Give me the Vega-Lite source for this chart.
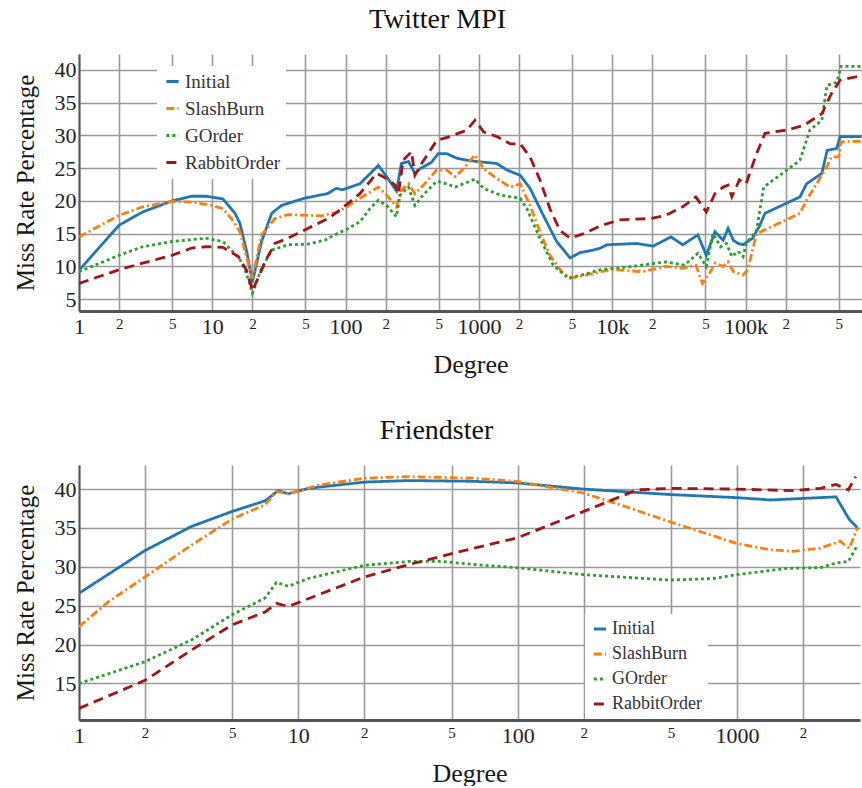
{
  "$schema": "https://vega.github.io/schema/vega-lite/v6.json",
  "padding": {"left": 13, "top": 6, "right": 0, "bottom": 0},
  "background": "white",
  "spacing": 40,
  "config": {
    "font": "Liberation Serif",
    "view": {"stroke": null},
    "style": {"guide-label": {"font": "Liberation Serif"}, "guide-title": {"font": "Liberation Serif"}},
    "axis": {"gridColor": "#9a9a9a", "gridWidth": 1.6, "gridOpacity": 1, "domainColor": "#555555", "labelColor": "#222222", "titleColor": "#1a1a1a", "labelFont": "Liberation Serif", "titleFont": "Liberation Serif", "titleFontWeight": "normal", "ticks": false},
    "legend": {"labelFont": "Liberation Serif", "titleFont": "Liberation Serif"},
    "title": {"font": "Liberation Serif", "fontSize": 28, "fontWeight": "normal", "color": "#111111", "anchor": "middle", "frame": "bounds"}
  },
  "datasets": {
    "twitter": [
      {"degree": 1, "series": "Initial", "miss": 9.4},
      {"degree": 2, "series": "Initial", "miss": 16.3},
      {"degree": 3, "series": "Initial", "miss": 18.3},
      {"degree": 5, "series": "Initial", "miss": 20.0},
      {"degree": 7, "series": "Initial", "miss": 20.7},
      {"degree": 9, "series": "Initial", "miss": 20.7},
      {"degree": 12, "series": "Initial", "miss": 20.3},
      {"degree": 14.8, "series": "Initial", "miss": 18.1},
      {"degree": 16.1, "series": "Initial", "miss": 16.6},
      {"degree": 18.1, "series": "Initial", "miss": 12.3},
      {"degree": 20, "series": "Initial", "miss": 7.6},
      {"degree": 23.4, "series": "Initial", "miss": 13.8},
      {"degree": 27.9, "series": "Initial", "miss": 18.1},
      {"degree": 33, "series": "Initial", "miss": 19.3},
      {"degree": 49, "series": "Initial", "miss": 20.4},
      {"degree": 73, "series": "Initial", "miss": 21.1},
      {"degree": 85, "series": "Initial", "miss": 21.9},
      {"degree": 95, "series": "Initial", "miss": 21.7},
      {"degree": 128, "series": "Initial", "miss": 22.6},
      {"degree": 176, "series": "Initial", "miss": 25.4},
      {"degree": 198, "series": "Initial", "miss": 24.0},
      {"degree": 241, "series": "Initial", "miss": 21.5},
      {"degree": 262, "series": "Initial", "miss": 25.7},
      {"degree": 296, "series": "Initial", "miss": 26.0},
      {"degree": 331, "series": "Initial", "miss": 24.2},
      {"degree": 362, "series": "Initial", "miss": 24.9},
      {"degree": 441, "series": "Initial", "miss": 25.9},
      {"degree": 496, "series": "Initial", "miss": 27.2},
      {"degree": 574, "series": "Initial", "miss": 27.2},
      {"degree": 683, "series": "Initial", "miss": 26.5},
      {"degree": 812, "series": "Initial", "miss": 26.2},
      {"degree": 967, "series": "Initial", "miss": 26.0},
      {"degree": 1364, "series": "Initial", "miss": 25.7},
      {"degree": 1622, "series": "Initial", "miss": 24.7},
      {"degree": 2040, "series": "Initial", "miss": 23.9},
      {"degree": 2420, "series": "Initial", "miss": 21.9},
      {"degree": 3040, "series": "Initial", "miss": 17.8},
      {"degree": 3830, "series": "Initial", "miss": 13.8},
      {"degree": 4830, "series": "Initial", "miss": 11.3},
      {"degree": 5740, "series": "Initial", "miss": 12.1},
      {"degree": 7220, "series": "Initial", "miss": 12.5},
      {"degree": 8180, "series": "Initial", "miss": 12.8},
      {"degree": 9100, "series": "Initial", "miss": 13.3},
      {"degree": 15200, "series": "Initial", "miss": 13.5},
      {"degree": 20300, "series": "Initial", "miss": 13.1},
      {"degree": 27600, "series": "Initial", "miss": 14.5},
      {"degree": 33800, "series": "Initial", "miss": 13.3},
      {"degree": 43900, "series": "Initial", "miss": 14.8},
      {"degree": 50800, "series": "Initial", "miss": 11.7},
      {"degree": 59000, "series": "Initial", "miss": 15.3},
      {"degree": 68000, "series": "Initial", "miss": 14.0},
      {"degree": 74000, "series": "Initial", "miss": 15.8},
      {"degree": 81000, "series": "Initial", "miss": 14.0},
      {"degree": 88000, "series": "Initial", "miss": 13.5},
      {"degree": 96000, "series": "Initial", "miss": 13.3},
      {"degree": 113000, "series": "Initial", "miss": 14.3},
      {"degree": 127000, "series": "Initial", "miss": 16.1},
      {"degree": 140000, "series": "Initial", "miss": 18.1},
      {"degree": 256000, "series": "Initial", "miss": 20.6},
      {"degree": 287000, "series": "Initial", "miss": 22.6},
      {"degree": 374000, "series": "Initial", "miss": 24.2},
      {"degree": 410000, "series": "Initial", "miss": 27.7},
      {"degree": 484000, "series": "Initial", "miss": 28.0},
      {"degree": 512000, "series": "Initial", "miss": 29.8},
      {"degree": 745000, "series": "Initial", "miss": 29.8},

      {"degree": 1, "series": "SlashBurn", "miss": 14.5},
      {"degree": 2, "series": "SlashBurn", "miss": 17.8},
      {"degree": 3, "series": "SlashBurn", "miss": 19.1},
      {"degree": 5, "series": "SlashBurn", "miss": 19.9},
      {"degree": 7, "series": "SlashBurn", "miss": 19.8},
      {"degree": 10, "series": "SlashBurn", "miss": 19.3},
      {"degree": 12, "series": "SlashBurn", "miss": 18.8},
      {"degree": 14.3, "series": "SlashBurn", "miss": 17.0},
      {"degree": 16.1, "series": "SlashBurn", "miss": 15.3},
      {"degree": 18, "series": "SlashBurn", "miss": 11.5},
      {"degree": 20, "series": "SlashBurn", "miss": 8.2},
      {"degree": 23.4, "series": "SlashBurn", "miss": 14.8},
      {"degree": 29.5, "series": "SlashBurn", "miss": 17.3},
      {"degree": 37, "series": "SlashBurn", "miss": 17.9},
      {"degree": 52, "series": "SlashBurn", "miss": 17.8},
      {"degree": 66, "series": "SlashBurn", "miss": 17.7},
      {"degree": 88, "series": "SlashBurn", "miss": 18.3},
      {"degree": 128, "series": "SlashBurn", "miss": 20.4},
      {"degree": 176, "series": "SlashBurn", "miss": 22.1},
      {"degree": 203, "series": "SlashBurn", "miss": 20.9},
      {"degree": 241, "series": "SlashBurn", "miss": 19.1},
      {"degree": 262, "series": "SlashBurn", "miss": 21.6},
      {"degree": 296, "series": "SlashBurn", "miss": 22.6},
      {"degree": 331, "series": "SlashBurn", "miss": 21.1},
      {"degree": 372, "series": "SlashBurn", "miss": 22.1},
      {"degree": 482, "series": "SlashBurn", "miss": 24.7},
      {"degree": 574, "series": "SlashBurn", "miss": 24.7},
      {"degree": 663, "series": "SlashBurn", "miss": 23.7},
      {"degree": 765, "series": "SlashBurn", "miss": 24.9},
      {"degree": 934, "series": "SlashBurn", "miss": 27.0},
      {"degree": 1087, "series": "SlashBurn", "miss": 24.9},
      {"degree": 1364, "series": "SlashBurn", "miss": 23.4},
      {"degree": 1720, "series": "SlashBurn", "miss": 22.1},
      {"degree": 2040, "series": "SlashBurn", "miss": 22.6},
      {"degree": 2420, "series": "SlashBurn", "miss": 19.3},
      {"degree": 2870, "series": "SlashBurn", "miss": 15.3},
      {"degree": 3410, "series": "SlashBurn", "miss": 11.7},
      {"degree": 4170, "series": "SlashBurn", "miss": 9.2},
      {"degree": 4830, "series": "SlashBurn", "miss": 8.2},
      {"degree": 6430, "series": "SlashBurn", "miss": 8.7},
      {"degree": 8180, "series": "SlashBurn", "miss": 9.2},
      {"degree": 10150, "series": "SlashBurn", "miss": 9.5},
      {"degree": 16900, "series": "SlashBurn", "miss": 9.2},
      {"degree": 25300, "series": "SlashBurn", "miss": 10.0},
      {"degree": 33800, "series": "SlashBurn", "miss": 9.7},
      {"degree": 42400, "series": "SlashBurn", "miss": 10.2},
      {"degree": 47600, "series": "SlashBurn", "miss": 7.4},
      {"degree": 53600, "series": "SlashBurn", "miss": 8.9},
      {"degree": 59000, "series": "SlashBurn", "miss": 10.5},
      {"degree": 68000, "series": "SlashBurn", "miss": 10.0},
      {"degree": 74000, "series": "SlashBurn", "miss": 10.7},
      {"degree": 81000, "series": "SlashBurn", "miss": 9.2},
      {"degree": 96000, "series": "SlashBurn", "miss": 8.7},
      {"degree": 104000, "series": "SlashBurn", "miss": 9.5},
      {"degree": 121000, "series": "SlashBurn", "miss": 15.0},
      {"degree": 137000, "series": "SlashBurn", "miss": 15.5},
      {"degree": 256000, "series": "SlashBurn", "miss": 18.1},
      {"degree": 287000, "series": "SlashBurn", "miss": 20.1},
      {"degree": 408000, "series": "SlashBurn", "miss": 25.2},
      {"degree": 440000, "series": "SlashBurn", "miss": 26.7},
      {"degree": 500000, "series": "SlashBurn", "miss": 26.7},
      {"degree": 520000, "series": "SlashBurn", "miss": 29.0},
      {"degree": 745000, "series": "SlashBurn", "miss": 29.1},

      {"degree": 1, "series": "GOrder", "miss": 9.2},
      {"degree": 2, "series": "GOrder", "miss": 11.7},
      {"degree": 3, "series": "GOrder", "miss": 13.0},
      {"degree": 5, "series": "GOrder", "miss": 13.8},
      {"degree": 9, "series": "GOrder", "miss": 14.3},
      {"degree": 12, "series": "GOrder", "miss": 13.8},
      {"degree": 16, "series": "GOrder", "miss": 11.2},
      {"degree": 18, "series": "GOrder", "miss": 9.0},
      {"degree": 20, "series": "GOrder", "miss": 5.9},
      {"degree": 23.4, "series": "GOrder", "miss": 9.7},
      {"degree": 28, "series": "GOrder", "miss": 12.5},
      {"degree": 37, "series": "GOrder", "miss": 13.3},
      {"degree": 52, "series": "GOrder", "miss": 13.4},
      {"degree": 70, "series": "GOrder", "miss": 14.0},
      {"degree": 88, "series": "GOrder", "miss": 15.1},
      {"degree": 101, "series": "GOrder", "miss": 15.6},
      {"degree": 128, "series": "GOrder", "miss": 16.8},
      {"degree": 152, "series": "GOrder", "miss": 18.8},
      {"degree": 176, "series": "GOrder", "miss": 20.1},
      {"degree": 203, "series": "GOrder", "miss": 19.3},
      {"degree": 241, "series": "GOrder", "miss": 17.6},
      {"degree": 256, "series": "GOrder", "miss": 20.9},
      {"degree": 296, "series": "GOrder", "miss": 22.1},
      {"degree": 331, "series": "GOrder", "miss": 19.3},
      {"degree": 382, "series": "GOrder", "miss": 20.9},
      {"degree": 482, "series": "GOrder", "miss": 23.0},
      {"degree": 574, "series": "GOrder", "miss": 22.6},
      {"degree": 663, "series": "GOrder", "miss": 22.1},
      {"degree": 765, "series": "GOrder", "miss": 22.6},
      {"degree": 934, "series": "GOrder", "miss": 23.3},
      {"degree": 1087, "series": "GOrder", "miss": 21.9},
      {"degree": 1440, "series": "GOrder", "miss": 20.9},
      {"degree": 2040, "series": "GOrder", "miss": 20.4},
      {"degree": 2290, "series": "GOrder", "miss": 18.8},
      {"degree": 2870, "series": "GOrder", "miss": 14.3},
      {"degree": 3610, "series": "GOrder", "miss": 10.2},
      {"degree": 4700, "series": "GOrder", "miss": 8.2},
      {"degree": 6430, "series": "GOrder", "miss": 8.9},
      {"degree": 8180, "series": "GOrder", "miss": 9.5},
      {"degree": 14300, "series": "GOrder", "miss": 10.0},
      {"degree": 25300, "series": "GOrder", "miss": 10.7},
      {"degree": 34900, "series": "GOrder", "miss": 10.2},
      {"degree": 43900, "series": "GOrder", "miss": 12.0},
      {"degree": 50800, "series": "GOrder", "miss": 10.0},
      {"degree": 57000, "series": "GOrder", "miss": 15.0},
      {"degree": 65000, "series": "GOrder", "miss": 13.0},
      {"degree": 72000, "series": "GOrder", "miss": 13.5},
      {"degree": 79000, "series": "GOrder", "miss": 11.5},
      {"degree": 88000, "series": "GOrder", "miss": 12.3},
      {"degree": 96000, "series": "GOrder", "miss": 11.5},
      {"degree": 101000, "series": "GOrder", "miss": 13.5},
      {"degree": 121000, "series": "GOrder", "miss": 15.5},
      {"degree": 137000, "series": "GOrder", "miss": 22.1},
      {"degree": 204000, "series": "GOrder", "miss": 24.7},
      {"degree": 256000, "series": "GOrder", "miss": 26.2},
      {"degree": 304000, "series": "GOrder", "miss": 30.8},
      {"degree": 374000, "series": "GOrder", "miss": 32.3},
      {"degree": 408000, "series": "GOrder", "miss": 37.6},
      {"degree": 484000, "series": "GOrder", "miss": 38.1},
      {"degree": 520000, "series": "GOrder", "miss": 40.5},
      {"degree": 745000, "series": "GOrder", "miss": 40.5},

      {"degree": 1, "series": "RabbitOrder", "miss": 7.4},
      {"degree": 2, "series": "RabbitOrder", "miss": 9.5},
      {"degree": 3, "series": "RabbitOrder", "miss": 10.5},
      {"degree": 5, "series": "RabbitOrder", "miss": 11.7},
      {"degree": 7, "series": "RabbitOrder", "miss": 12.8},
      {"degree": 9, "series": "RabbitOrder", "miss": 13.0},
      {"degree": 12, "series": "RabbitOrder", "miss": 12.9},
      {"degree": 15.7, "series": "RabbitOrder", "miss": 11.5},
      {"degree": 18, "series": "RabbitOrder", "miss": 9.5},
      {"degree": 20, "series": "RabbitOrder", "miss": 6.3},
      {"degree": 25.6, "series": "RabbitOrder", "miss": 11.2},
      {"degree": 29.5, "series": "RabbitOrder", "miss": 13.5},
      {"degree": 37, "series": "RabbitOrder", "miss": 14.3},
      {"degree": 52, "series": "RabbitOrder", "miss": 15.8},
      {"degree": 74, "series": "RabbitOrder", "miss": 17.3},
      {"degree": 93, "series": "RabbitOrder", "miss": 18.8},
      {"degree": 128, "series": "RabbitOrder", "miss": 21.1},
      {"degree": 171, "series": "RabbitOrder", "miss": 24.2},
      {"degree": 203, "series": "RabbitOrder", "miss": 23.4},
      {"degree": 235, "series": "RabbitOrder", "miss": 22.4},
      {"degree": 249, "series": "RabbitOrder", "miss": 21.1},
      {"degree": 270, "series": "RabbitOrder", "miss": 26.2},
      {"degree": 312, "series": "RabbitOrder", "miss": 27.5},
      {"degree": 331, "series": "RabbitOrder", "miss": 23.9},
      {"degree": 372, "series": "RabbitOrder", "miss": 25.7},
      {"degree": 482, "series": "RabbitOrder", "miss": 29.2},
      {"degree": 604, "series": "RabbitOrder", "miss": 29.8},
      {"degree": 812, "series": "RabbitOrder", "miss": 30.8},
      {"degree": 934, "series": "RabbitOrder", "miss": 32.3},
      {"degree": 1087, "series": "RabbitOrder", "miss": 30.5},
      {"degree": 1364, "series": "RabbitOrder", "miss": 29.8},
      {"degree": 1720, "series": "RabbitOrder", "miss": 28.7},
      {"degree": 2040, "series": "RabbitOrder", "miss": 28.7},
      {"degree": 2420, "series": "RabbitOrder", "miss": 26.7},
      {"degree": 2870, "series": "RabbitOrder", "miss": 23.2},
      {"degree": 3410, "series": "RabbitOrder", "miss": 18.8},
      {"degree": 4050, "series": "RabbitOrder", "miss": 15.5},
      {"degree": 4830, "series": "RabbitOrder", "miss": 14.3},
      {"degree": 6110, "series": "RabbitOrder", "miss": 15.0},
      {"degree": 8180, "series": "RabbitOrder", "miss": 16.2},
      {"degree": 11400, "series": "RabbitOrder", "miss": 17.1},
      {"degree": 19200, "series": "RabbitOrder", "miss": 17.3},
      {"degree": 25300, "series": "RabbitOrder", "miss": 17.8},
      {"degree": 33800, "series": "RabbitOrder", "miss": 19.1},
      {"degree": 42400, "series": "RabbitOrder", "miss": 20.6},
      {"degree": 50800, "series": "RabbitOrder", "miss": 18.3},
      {"degree": 59000, "series": "RabbitOrder", "miss": 21.1},
      {"degree": 68000, "series": "RabbitOrder", "miss": 22.1},
      {"degree": 74000, "series": "RabbitOrder", "miss": 22.4},
      {"degree": 79000, "series": "RabbitOrder", "miss": 20.6},
      {"degree": 90000, "series": "RabbitOrder", "miss": 23.2},
      {"degree": 101000, "series": "RabbitOrder", "miss": 22.6},
      {"degree": 121000, "series": "RabbitOrder", "miss": 27.2},
      {"degree": 140000, "series": "RabbitOrder", "miss": 30.3},
      {"degree": 204000, "series": "RabbitOrder", "miss": 30.8},
      {"degree": 273000, "series": "RabbitOrder", "miss": 31.5},
      {"degree": 374000, "series": "RabbitOrder", "miss": 33.3},
      {"degree": 440000, "series": "RabbitOrder", "miss": 36.3},
      {"degree": 512000, "series": "RabbitOrder", "miss": 38.4},
      {"degree": 745000, "series": "RabbitOrder", "miss": 39.1}
    ],
    "friendster": [
      {"degree": 1, "series": "Initial", "miss": 26.6},
      {"degree": 2, "series": "Initial", "miss": 32.1},
      {"degree": 3.26, "series": "Initial", "miss": 35.2},
      {"degree": 4.96, "series": "Initial", "miss": 37.1},
      {"degree": 7.06, "series": "Initial", "miss": 38.5},
      {"degree": 8.1, "series": "Initial", "miss": 39.8},
      {"degree": 9.0, "series": "Initial", "miss": 39.4},
      {"degree": 11.1, "series": "Initial", "miss": 40.1},
      {"degree": 20, "series": "Initial", "miss": 40.9},
      {"degree": 32, "series": "Initial", "miss": 41.1},
      {"degree": 63, "series": "Initial", "miss": 41.0},
      {"degree": 99, "series": "Initial", "miss": 40.8},
      {"degree": 199, "series": "Initial", "miss": 40.0},
      {"degree": 495, "series": "Initial", "miss": 39.3},
      {"degree": 1000, "series": "Initial", "miss": 38.9},
      {"degree": 1420, "series": "Initial", "miss": 38.6},
      {"degree": 2000, "series": "Initial", "miss": 38.8},
      {"degree": 2830, "series": "Initial", "miss": 39.0},
      {"degree": 3250, "series": "Initial", "miss": 36.1},
      {"degree": 3550, "series": "Initial", "miss": 35.0},

      {"degree": 1, "series": "SlashBurn", "miss": 22.3},
      {"degree": 1.36, "series": "SlashBurn", "miss": 25.5},
      {"degree": 2, "series": "SlashBurn", "miss": 28.7},
      {"degree": 3.26, "series": "SlashBurn", "miss": 32.8},
      {"degree": 4.96, "series": "SlashBurn", "miss": 36.1},
      {"degree": 7.06, "series": "SlashBurn", "miss": 38.0},
      {"degree": 7.95, "series": "SlashBurn", "miss": 39.7},
      {"degree": 9.0, "series": "SlashBurn", "miss": 39.4},
      {"degree": 12.3, "series": "SlashBurn", "miss": 40.5},
      {"degree": 20, "series": "SlashBurn", "miss": 41.4},
      {"degree": 32, "series": "SlashBurn", "miss": 41.6},
      {"degree": 63, "series": "SlashBurn", "miss": 41.4},
      {"degree": 99, "series": "SlashBurn", "miss": 41.0},
      {"degree": 199, "series": "SlashBurn", "miss": 39.5},
      {"degree": 292, "series": "SlashBurn", "miss": 38.0},
      {"degree": 495, "series": "SlashBurn", "miss": 35.8},
      {"degree": 1000, "series": "SlashBurn", "miss": 33.0},
      {"degree": 1420, "series": "SlashBurn", "miss": 32.2},
      {"degree": 1800, "series": "SlashBurn", "miss": 32.0},
      {"degree": 2400, "series": "SlashBurn", "miss": 32.4},
      {"degree": 2950, "series": "SlashBurn", "miss": 33.3},
      {"degree": 3250, "series": "SlashBurn", "miss": 32.4},
      {"degree": 3550, "series": "SlashBurn", "miss": 35.0},

      {"degree": 1, "series": "GOrder", "miss": 15.0},
      {"degree": 2, "series": "GOrder", "miss": 17.8},
      {"degree": 3.26, "series": "GOrder", "miss": 20.6},
      {"degree": 4.96, "series": "GOrder", "miss": 23.8},
      {"degree": 7.06, "series": "GOrder", "miss": 26.0},
      {"degree": 7.95, "series": "GOrder", "miss": 28.0},
      {"degree": 9.0, "series": "GOrder", "miss": 27.5},
      {"degree": 11.1, "series": "GOrder", "miss": 28.5},
      {"degree": 20, "series": "GOrder", "miss": 30.2},
      {"degree": 32, "series": "GOrder", "miss": 30.7},
      {"degree": 45, "series": "GOrder", "miss": 30.7},
      {"degree": 63, "series": "GOrder", "miss": 30.3},
      {"degree": 99, "series": "GOrder", "miss": 29.9},
      {"degree": 199, "series": "GOrder", "miss": 29.0},
      {"degree": 495, "series": "GOrder", "miss": 28.3},
      {"degree": 780, "series": "GOrder", "miss": 28.5},
      {"degree": 1000, "series": "GOrder", "miss": 29.0},
      {"degree": 1690, "series": "GOrder", "miss": 29.8},
      {"degree": 2400, "series": "GOrder", "miss": 29.9},
      {"degree": 2830, "series": "GOrder", "miss": 30.5},
      {"degree": 3220, "series": "GOrder", "miss": 30.7},
      {"degree": 3550, "series": "GOrder", "miss": 32.8},

      {"degree": 1, "series": "RabbitOrder", "miss": 11.8},
      {"degree": 2, "series": "RabbitOrder", "miss": 15.4},
      {"degree": 3.26, "series": "RabbitOrder", "miss": 19.3},
      {"degree": 4.96, "series": "RabbitOrder", "miss": 22.5},
      {"degree": 7.06, "series": "RabbitOrder", "miss": 24.2},
      {"degree": 7.95, "series": "RabbitOrder", "miss": 25.3},
      {"degree": 9.0, "series": "RabbitOrder", "miss": 24.9},
      {"degree": 20, "series": "RabbitOrder", "miss": 28.7},
      {"degree": 32, "series": "RabbitOrder", "miss": 30.3},
      {"degree": 63, "series": "RabbitOrder", "miss": 32.4},
      {"degree": 99, "series": "RabbitOrder", "miss": 33.7},
      {"degree": 199, "series": "RabbitOrder", "miss": 37.1},
      {"degree": 350, "series": "RabbitOrder", "miss": 39.9},
      {"degree": 495, "series": "RabbitOrder", "miss": 40.1},
      {"degree": 1000, "series": "RabbitOrder", "miss": 40.0},
      {"degree": 1800, "series": "RabbitOrder", "miss": 39.8},
      {"degree": 2400, "series": "RabbitOrder", "miss": 40.1},
      {"degree": 2830, "series": "RabbitOrder", "miss": 40.6},
      {"degree": 3220, "series": "RabbitOrder", "miss": 39.9},
      {"degree": 3480, "series": "RabbitOrder", "miss": 41.6}
    ]
  },
  "resolve": {"legend": {"color": "independent", "strokeDash": "independent"}, "scale": {"x": "independent", "y": "independent"}},
  "vconcat": [
    {
      "title": {"text": "Twitter MPI", "offset": 20},
      "width": 783,
      "height": 257,
      "data": {"name": "twitter"},
      "mark": {"type": "line", "strokeWidth": 2.8, "clip": true},
      "encoding": {
        "x": {
          "field": "degree", "type": "quantitative",
          "scale": {"type": "log", "domain": [1, 748000], "nice": false},
          "axis": {
            "title": "Degree", "titleFontSize": 26, "titlePadding": 14, "titleFont": "Liberation Serif",
            "values": [1, 2, 5, 10, 20, 50, 100, 200, 500, 1000, 2000, 5000, 10000, 20000, 50000, 100000, 200000, 500000],
            "labelExpr": "datum.value == 10000 ? '10k' : datum.value == 100000 ? '100k' : (indexof([1, 10, 100, 1000], datum.value) >= 0 ? format(datum.value, 'd') : substring(format(datum.value, 'd'), 0, 1))",
            "labelFontSize": {"condition": {"test": "indexof([1, 10, 100, 1000, 10000, 100000], datum.value) >= 0", "value": 22}, "value": 15},
            "labelFont": "Liberation Serif",
            "labelPadding": 5, "labelFlush": false, "labelOverlap": false,
            "domainWidth": 3, "domainColor": "#555555", "grid": true
          }
        },
        "y": {
          "field": "miss", "type": "quantitative",
          "scale": {"domain": [3.2, 42.4], "nice": false, "zero": false},
          "axis": {
            "title": "Miss Rate Percentage", "titleFontSize": 25, "titlePadding": 15, "titleFont": "Liberation Serif",
            "values": [5, 10, 15, 20, 25, 30, 35, 40],
            "labelFontSize": 22, "labelFont": "Liberation Serif", "labelPadding": 3, "minExtent": 26, "maxExtent": 26,
            "domainWidth": 2, "grid": true
          }
        },
        "color": {
          "field": "series", "type": "nominal",
          "scale": {"domain": ["Initial", "SlashBurn", "GOrder", "RabbitOrder"], "range": ["#1f77b4", "#ff7f0e", "#2ca02c", "#a31515"]},
          "legend": {"title": null, "orient": "none", "legendX": 78, "legendY": 12, "fillColor": "white", "padding": 6, "symbolType": "stroke", "symbolSize": 150, "symbolStrokeWidth": 3, "labelFontSize": 19, "labelFont": "Liberation Serif", "labelColor": "#333333", "rowPadding": 7, "labelOffset": 3}
        },
        "strokeDash": {
          "field": "series", "type": "nominal",
          "scale": {"domain": ["Initial", "SlashBurn", "GOrder", "RabbitOrder"], "range": [[1, 0], [8, 3, 2, 3], [3, 3], [10, 6]]},
          "legend": {"title": null, "orient": "none", "legendX": 78, "legendY": 12, "fillColor": "white", "padding": 6, "symbolType": "stroke", "symbolSize": 150, "symbolStrokeWidth": 3, "labelFontSize": 19, "labelFont": "Liberation Serif", "labelColor": "#333333", "rowPadding": 7, "labelOffset": 3}
        }
      }
    },
    {
      "title": {"text": "Friendster", "offset": 20},
      "width": 781,
      "height": 255,
      "data": {"name": "friendster"},
      "mark": {"type": "line", "strokeWidth": 2.8, "clip": true},
      "encoding": {
        "x": {
          "field": "degree", "type": "quantitative",
          "scale": {"type": "log", "domain": [1, 3640], "nice": false},
          "axis": {
            "title": "Degree", "titleFontSize": 26, "titlePadding": 14, "titleFont": "Liberation Serif",
            "values": [1, 2, 5, 10, 20, 50, 100, 200, 500, 1000, 2000],
            "labelExpr": "indexof([1, 10, 100, 1000], datum.value) >= 0 ? format(datum.value, 'd') : substring(format(datum.value, 'd'), 0, 1)",
            "labelFontSize": {"condition": {"test": "indexof([1, 10, 100, 1000], datum.value) >= 0", "value": 22}, "value": 15},
            "labelFont": "Liberation Serif",
            "labelPadding": 5, "labelFlush": false, "labelOverlap": false,
            "domainWidth": 3, "domainColor": "#555555", "grid": true
          }
        },
        "y": {
          "field": "miss", "type": "quantitative",
          "scale": {"domain": [10.3, 43.1], "nice": false, "zero": false},
          "axis": {
            "title": "Miss Rate Percentage", "titleFontSize": 25, "titlePadding": 15, "titleFont": "Liberation Serif",
            "values": [15, 20, 25, 30, 35, 40],
            "labelFontSize": 22, "labelFont": "Liberation Serif", "labelPadding": 3, "minExtent": 26, "maxExtent": 26,
            "domainWidth": 2, "grid": true
          }
        },
        "color": {
          "field": "series", "type": "nominal",
          "scale": {"domain": ["Initial", "SlashBurn", "GOrder", "RabbitOrder"], "range": ["#1f77b4", "#ff7f0e", "#2ca02c", "#a31515"]},
          "legend": {"title": null, "orient": "none", "legendX": 506, "legendY": 149, "fillColor": "white", "padding": 6, "symbolType": "stroke", "symbolSize": 150, "symbolStrokeWidth": 3, "labelFontSize": 18, "labelFont": "Liberation Serif", "labelColor": "#333333", "rowPadding": 7, "labelOffset": 3}
        },
        "strokeDash": {
          "field": "series", "type": "nominal",
          "scale": {"domain": ["Initial", "SlashBurn", "GOrder", "RabbitOrder"], "range": [[1, 0], [8, 3, 2, 3], [3, 3], [10, 6]]},
          "legend": {"title": null, "orient": "none", "legendX": 506, "legendY": 149, "fillColor": "white", "padding": 6, "symbolType": "stroke", "symbolSize": 150, "symbolStrokeWidth": 3, "labelFontSize": 18, "labelFont": "Liberation Serif", "labelColor": "#333333", "rowPadding": 7, "labelOffset": 3}
        }
      }
    }
  ]
}
